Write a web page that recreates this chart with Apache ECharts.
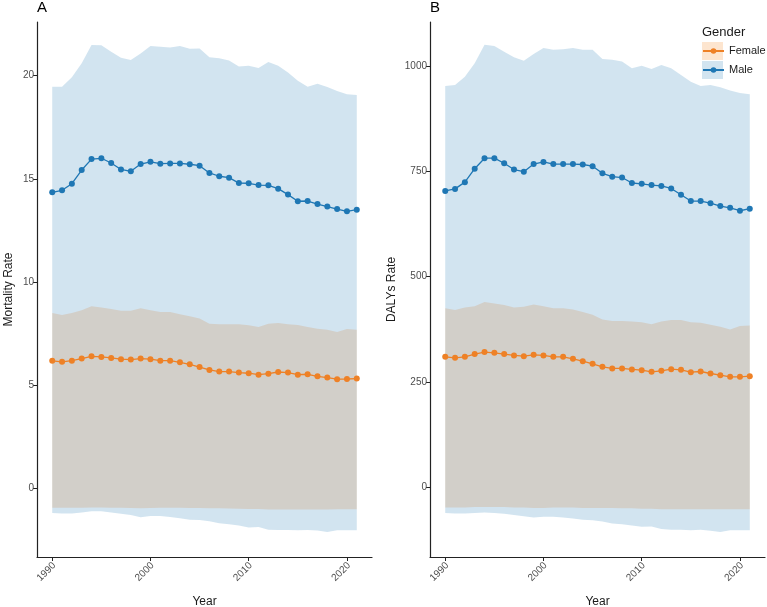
<!DOCTYPE html>
<html>
<head>
<meta charset="utf-8">
<script src="https://cdn.jsdelivr.net/npm/echarts@6/dist/echarts.min.js"></script>
<style>
  html, body { margin: 0; padding: 0; background: #fff; }
  #chart { width: 767px; height: 607px; }
</style>
</head>
<body>
<div id="chart"></div>
<script>
const years = [1990, 1991, 1992, 1993, 1994, 1995, 1996, 1997, 1998, 1999, 2000, 2001, 2002, 2003, 2004, 2005,
  2006, 2007, 2008, 2009, 2010, 2011, 2012, 2013, 2014, 2015, 2016, 2017, 2018, 2019, 2020, 2021]

// panel A: mortality rate
const mortMale = [14.35, 14.45, 14.77, 15.43, 15.96, 16.0, 15.77, 15.46, 15.37, 15.72, 15.83, 15.74, 15.75, 15.75, 15.71, 15.64,
  15.29, 15.13, 15.06, 14.8, 14.79, 14.7, 14.69, 14.53, 14.24, 13.92, 13.93, 13.78, 13.66, 13.54, 13.43, 13.51]
const mortMaleHi = [19.47, 19.47, 19.92, 20.6, 21.49, 21.47, 21.16, 20.87, 20.76, 21.08, 21.44, 21.4, 21.37, 21.44, 21.31, 21.32,
  20.89, 20.84, 20.74, 20.44, 20.48, 20.37, 20.66, 20.48, 20.15, 19.76, 19.47, 19.61, 19.45, 19.26, 19.1, 19.06]
const mortMaleLo = [-1.18, -1.2, -1.2, -1.15, -1.1, -1.1, -1.15, -1.22, -1.28, -1.38, -1.32, -1.32, -1.37, -1.43, -1.5, -1.52,
  -1.58, -1.68, -1.72, -1.78, -1.88, -1.86, -1.99, -2.0, -2.0, -2.02, -2.0, -2.03, -2.1, -2.02, -2.02, -2.02]
const mortFemale = [6.19, 6.14, 6.2, 6.3, 6.41, 6.38, 6.33, 6.27, 6.25, 6.3, 6.27, 6.2, 6.2, 6.12, 6.02, 5.89,
  5.75, 5.67, 5.67, 5.62, 5.59, 5.52, 5.57, 5.65, 5.62, 5.52, 5.54, 5.44, 5.38, 5.3, 5.31, 5.33]
const mortFemaleHi = [8.51, 8.41, 8.51, 8.64, 8.83, 8.77, 8.7, 8.61, 8.61, 8.74, 8.64, 8.56, 8.55, 8.45, 8.35, 8.24,
  7.99, 7.96, 7.96, 7.96, 7.91, 7.83, 7.99, 8.02, 7.96, 7.93, 7.83, 7.75, 7.7, 7.59, 7.73, 7.7]
const mortFemaleLo = [-0.92, -0.93, -0.93, -0.92, -0.91, -0.91, -0.92, -0.93, -0.94, -0.95, -0.94, -0.93, -0.93, -0.93, -0.94, -0.94,
  -0.95, -0.95, -0.96, -0.97, -0.98, -0.99, -1.01, -1.01, -1.01, -1.01, -1.01, -1.01, -1.01, -1.0, -1.0, -1.0]

// panel B: DALYs rate
const dalyMale = [704, 709, 725, 757, 782, 782, 770, 755, 750, 768, 773, 768, 768, 768, 767, 763,
  746, 738, 736, 723, 721, 718, 716, 710, 695, 680, 680, 675, 668, 664, 657, 662]
const dalyMaleHi = [954, 956, 976, 1008, 1052, 1049, 1035, 1022, 1014, 1030, 1044, 1040, 1041, 1044, 1040, 1040,
  1018, 1016, 1012, 996, 1002, 994, 1004, 996, 980, 964, 954, 956, 951, 943, 937, 934]
const dalyMaleLo = [-62, -63, -63, -62, -61, -62, -64, -67, -70, -73, -71, -71, -73, -75, -78, -79,
  -82, -87, -89, -92, -95, -94, -100, -102, -102, -103, -102, -104, -107, -103, -103, -103]
const dalyFemale = [309.5, 307, 309.5, 316, 320.7, 319, 316, 312.7, 311, 314.3, 312.7, 309.5, 309.5, 304.8, 299.2, 292.9,
  285.7, 281.8, 281.8, 279.4, 277.8, 273.8, 276.2, 280.2, 278.6, 273, 274.6, 269.8, 265.9, 261.9, 261.9, 263.5]
const dalyFemaleHi = [425, 420.6, 427, 430, 439.7, 436.5, 432.6, 427, 428.6, 434, 430, 425, 425, 422, 416, 409.5,
  398.4, 395, 395, 393.7, 392, 387, 393.7, 396.8, 396.8, 392, 390.5, 385.7, 381, 374.6, 382.6, 384]
const dalyFemaleLo = [-49, -49, -49, -48, -48, -48, -48, -49, -49, -50, -50, -49, -49, -49, -50, -50,
  -50, -50, -51, -51, -52, -52, -53, -53, -53, -53, -53, -53, -53, -53, -53, -53]

const xTicks = [1990, 2000, 2010, 2020]
const mortTicks = [0, 5, 10, 15, 20]
const dalyTicks = [0, 250, 500, 750, 1000]

const ORANGE = '#ee8126'
const BLUE = '#1f77b4'
const ORANGE_FILL = 'rgba(255,127,14,0.2)'
const BLUE_FILL = 'rgba(31,119,180,0.2)'
const AXIS = '#222'
const FONT = 'Liberation Sans, Arial, sans-serif'

const pairs = (vals) => years.map((y, i) => [y, vals[i]])

// ribbon between lo and hi, drawn as one polygon through the axis scales
function band(idx, name, lo, hi, fill) {
  return {
    type: 'custom', name, xAxisIndex: idx, yAxisIndex: idx, silent: true,
    data: years.map((y, i) => [y, lo[i], hi[i]]),
    encode: { x: 0, y: [1, 2] },
    renderItem(params, api) {
      if (params.dataIndex !== 0) return
      const top = years.map((y, i) => api.coord([y, hi[i]]))
      const bottom = years.map((y, i) => api.coord([y, lo[i]])).reverse()
      return { type: 'polygon', shape: { points: top.concat(bottom) }, style: { fill } }
    },
  }
}

function trend(idx, name, vals, color) {
  return {
    type: 'line', name, xAxisIndex: idx, yAxisIndex: idx, data: pairs(vals),
    symbol: 'circle', symbolSize: 6, color,
    lineStyle: { color, width: 1.3 }, itemStyle: { color },
  }
}

function xAxis(idx) {
  return {
    type: 'value', gridIndex: idx, min: 1988.45, max: 2022.55,
    name: 'Year', nameLocation: 'middle', nameGap: 39,
    nameTextStyle: { color: '#1a1a1a', fontSize: 12 },
    axisLine: { onZero: false, lineStyle: { color: AXIS, width: 1.2 } },
    axisTick: { length: 4, customValues: xTicks, lineStyle: { color: AXIS } },
    axisLabel: {
      customValues: xTicks, rotate: 45, color: '#4d4d4d', fontSize: 10, margin: 2,
      verticalAlign: 'top', padding: [0, 2, 0, 0], formatter: (v) => String(v),
    },
    splitLine: { show: false },
  }
}

function yAxis(idx, name, min, max, ticks, gap) {
  return {
    type: 'value', gridIndex: idx, min, max,
    name, nameLocation: 'middle', nameGap: gap, nameRotate: 90,
    nameTextStyle: { color: '#1a1a1a', fontSize: 12 },
    axisLine: { show: true, onZero: false, lineStyle: { color: AXIS, width: 1.2 } },
    axisTick: { show: true, length: 4, customValues: ticks, lineStyle: { color: AXIS } },
    axisLabel: { customValues: ticks, color: '#4d4d4d', fontSize: 10, margin: 3, formatter: (v) => String(v) },
    splitLine: { show: false },
  }
}

const chart = echarts.init(document.getElementById('chart'))
chart.setOption({
  animation: false,
  backgroundColor: '#fff',
  textStyle: { fontFamily: FONT },
  title: [
    { text: 'A', left: 37, top: 0, padding: 0, textStyle: { fontSize: 15, fontWeight: 'normal', color: '#000' } },
    { text: 'B', left: 430, top: 0, padding: 0, textStyle: { fontSize: 15, fontWeight: 'normal', color: '#000' } },
  ],
  grid: [
    { left: 37, top: 22, width: 335, height: 535, containLabel: false, outerBoundsMode: 'none' },
    { left: 430, top: 22, width: 335, height: 535, containLabel: false, outerBoundsMode: 'none' },
  ],
  xAxis: [xAxis(0), xAxis(1)],
  yAxis: [
    yAxis(0, 'Mortality Rate', -3.31, 22.6, mortTicks, 22),
    yAxis(1, 'DALYs Rate', -166.7, 1106, dalyTicks, 32),
  ],
  legend: {
    orient: 'vertical', left: 702, top: 42, padding: 0, itemWidth: 21, itemHeight: 7, itemGap: 1,
    data: ['Female', 'Male'], z: 10,
    textStyle: { color: '#1a1a1a', fontSize: 11, lineHeight: 18 },
  },
  graphic: [
    { type: 'text', left: 702, top: 26, z: 10, style: { text: 'Gender', fontSize: 13, fill: '#1a1a1a', fontFamily: FONT } },
    { type: 'rect', left: 702, top: 42, z: 5, shape: { width: 21, height: 18 }, style: { fill: '#fde5cf' } },
    { type: 'rect', left: 702, top: 61, z: 5, shape: { width: 21, height: 18 }, style: { fill: '#d2e4f0' } },
  ],
  series: [
    band(0, 'Female band', mortFemaleLo, mortFemaleHi, ORANGE_FILL),
    band(0, 'Male band', mortMaleLo, mortMaleHi, BLUE_FILL),
    trend(0, 'Female', mortFemale, ORANGE),
    trend(0, 'Male', mortMale, BLUE),
    band(1, 'Female band', dalyFemaleLo, dalyFemaleHi, ORANGE_FILL),
    band(1, 'Male band', dalyMaleLo, dalyMaleHi, BLUE_FILL),
    trend(1, 'Female', dalyFemale, ORANGE),
    trend(1, 'Male', dalyMale, BLUE),
  ],
})
window.addEventListener('resize', () => chart.resize())
</script>
</body>
</html>
